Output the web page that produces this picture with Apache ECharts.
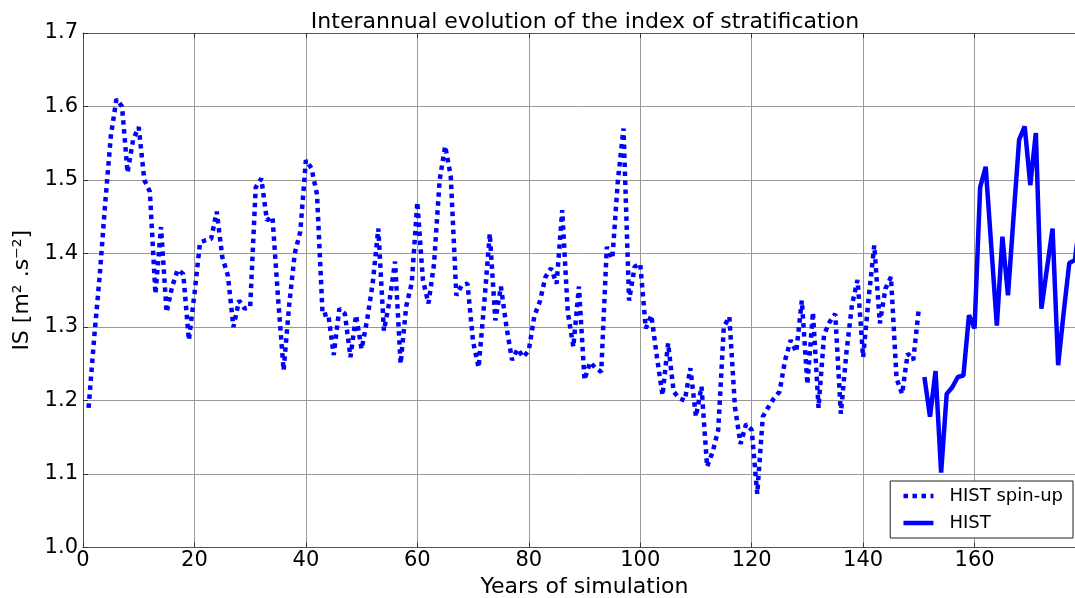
<!DOCTYPE html>
<html>
<head>
<meta charset="utf-8">
<script src="https://cdn.jsdelivr.net/npm/echarts@6/dist/echarts.min.js"></script>
<style>
html,body{margin:0;padding:0;background:#fff;}
#c{width:1075px;height:598px;}
</style>
</head>
<body>
<div id="c"></div>
<script>
// HIST spin-up: years 1..150
const spinStartYear = 1;
const spinValues = [
  1.19, 1.285, 1.37, 1.47, 1.56, 1.61, 1.60, 1.51, 1.555, 1.572,
  1.50, 1.484, 1.345, 1.436, 1.32, 1.355, 1.378, 1.372, 1.282, 1.345,
  1.415, 1.418, 1.42, 1.457, 1.395, 1.37, 1.30, 1.336, 1.325, 1.327,
  1.49, 1.502, 1.445, 1.45, 1.34, 1.241, 1.33, 1.40, 1.43, 1.527,
  1.516, 1.48, 1.316, 1.318, 1.262, 1.325, 1.318, 1.259, 1.316, 1.27,
  1.31, 1.36, 1.434, 1.295, 1.335, 1.389, 1.25, 1.328, 1.36, 1.47,
  1.364, 1.332, 1.386, 1.50, 1.546, 1.505, 1.343, 1.357, 1.359, 1.28,
  1.245, 1.332, 1.427, 1.309, 1.355, 1.30, 1.255, 1.27, 1.259, 1.268,
  1.315, 1.335, 1.368, 1.38, 1.359, 1.459, 1.32, 1.273, 1.355, 1.228,
  1.252, 1.244, 1.239, 1.409, 1.393, 1.50, 1.57, 1.336, 1.382, 1.386,
  1.298, 1.316, 1.259, 1.207, 1.278, 1.212, 1.203, 1.20, 1.244, 1.178,
  1.219, 1.11, 1.13, 1.16, 1.30, 1.314, 1.191, 1.141, 1.168, 1.16,
  1.073, 1.178, 1.191, 1.203, 1.212, 1.255, 1.282, 1.266, 1.336, 1.222,
  1.32, 1.19, 1.29, 1.307, 1.318, 1.182, 1.265, 1.33, 1.364, 1.259,
  1.34, 1.411, 1.305, 1.352, 1.368, 1.23, 1.209, 1.264, 1.255, 1.325
];
// HIST: years 151..179
const histStartYear = 151;
const histValues = [
  1.232, 1.178, 1.24, 1.102, 1.209, 1.218, 1.232, 1.234, 1.316, 1.298,
  1.49, 1.518, 1.41, 1.302, 1.423, 1.343, 1.45, 1.555, 1.573, 1.493,
  1.564, 1.325, 1.38, 1.434, 1.248, 1.32, 1.387, 1.391, 1.45
];
const xTicks = [0, 20, 40, 60, 80, 100, 120, 140, 160];
const yTicks = [1.0, 1.1, 1.2, 1.3, 1.4, 1.5, 1.6, 1.7];

const spinData = spinValues.map((v, i) => [spinStartYear + i, v]);
const histData = histValues.map((v, i) => [histStartYear + i, v]);

const FONT = 'DejaVu Sans';
const chart = echarts.init(document.getElementById('c'), null, {renderer: 'canvas'});
chart.setOption({
  animation: false,
  backgroundColor: '#fff',
  textStyle: {fontFamily: FONT, color: '#000'},
  title: {
    text: 'Interannual evolution of the index of stratification',
    left: 580, top: 6, textAlign: 'center',
    textStyle: {fontFamily: FONT, fontSize: 22, fontWeight: 'normal', color: '#000'}
  },
  grid: {left: 83, top: 33, width: 1003, height: 514.5, containLabel: false, outerBoundsMode: 'none'},
  legend: {
    orient: 'vertical',
    right: 2, top: 481,
    itemWidth: 30, itemHeight: 14, itemGap: 9,
    padding: [6, 10, 6, 11],
    borderColor: '#222', borderWidth: 1, borderRadius: 0,
    backgroundColor: '#fff',
    itemStyle: {opacity: 0},
    lineStyle: {width: 4.5},
    textStyle: {fontFamily: FONT, fontSize: 18, color: '#000', padding: [0, 0, 0, 11]},
    data: ['HIST spin-up', 'HIST']
  },
  xAxis: [{
    type: 'value', min: 0, max: 180, interval: 20,
    name: 'Years of simulation', nameLocation: 'middle', nameGap: 27,
    nameTextStyle: {fontFamily: FONT, fontSize: 22, color: '#000'},
    axisLine: {show: true, lineStyle: {color: '#555', width: 1}},
    axisTick: {show: true, inside: true, length: 5, lineStyle: {color: '#333'}},
    axisLabel: {
      fontFamily: FONT, fontSize: 21, color: '#000', margin: 3,
      formatter: v => (xTicks.indexOf(v) >= 0 ? String(v) : '')
    },
    splitLine: {show: true, lineStyle: {color: '#999', width: 1}}
  }, {
    type: 'value', min: 0, max: 180, interval: 20, position: 'top',
    axisLine: {show: true, lineStyle: {color: '#555', width: 1}},
    axisTick: {show: true, inside: true, length: 5, lineStyle: {color: '#333'}},
    axisLabel: {show: false},
    splitLine: {show: false}
  }],
  yAxis: {
    type: 'value', min: 1.0, max: 1.7, interval: 0.1,
    name: 'IS [m² .s⁻²]', nameLocation: 'middle', nameGap: 44, nameRotate: 90,
    nameTextStyle: {fontFamily: FONT, fontSize: 22, color: '#000'},
    axisLine: {show: true, lineStyle: {color: '#555', width: 1}},
    axisTick: {show: true, inside: true, length: 5, lineStyle: {color: '#333'}},
    axisLabel: {
      fontFamily: FONT, fontSize: 21, color: '#000', margin: 5,
      formatter: v => {
        const r = Math.round(v * 10) / 10;
        return yTicks.some(t => Math.abs(t - r) < 1e-9) ? r.toFixed(1) : '';
      }
    },
    splitLine: {show: true, lineStyle: {color: '#999', width: 1}}
  },
  series: [{
    name: 'HIST spin-up', type: 'line', xAxisIndex: 0,
    data: spinData, showSymbol: false, symbol: 'none', clip: true,
    lineStyle: {color: '#0000ff', width: 4.5, type: [4.5, 4.5], cap: 'butt'},
    itemStyle: {color: '#0000ff'}
  }, {
    name: 'HIST', type: 'line', xAxisIndex: 0,
    data: histData, showSymbol: false, symbol: 'none', clip: true,
    lineStyle: {color: '#0000ff', width: 4.5, type: 'solid'},
    itemStyle: {color: '#0000ff'}
  }]
});
</script>
</body>
</html>
